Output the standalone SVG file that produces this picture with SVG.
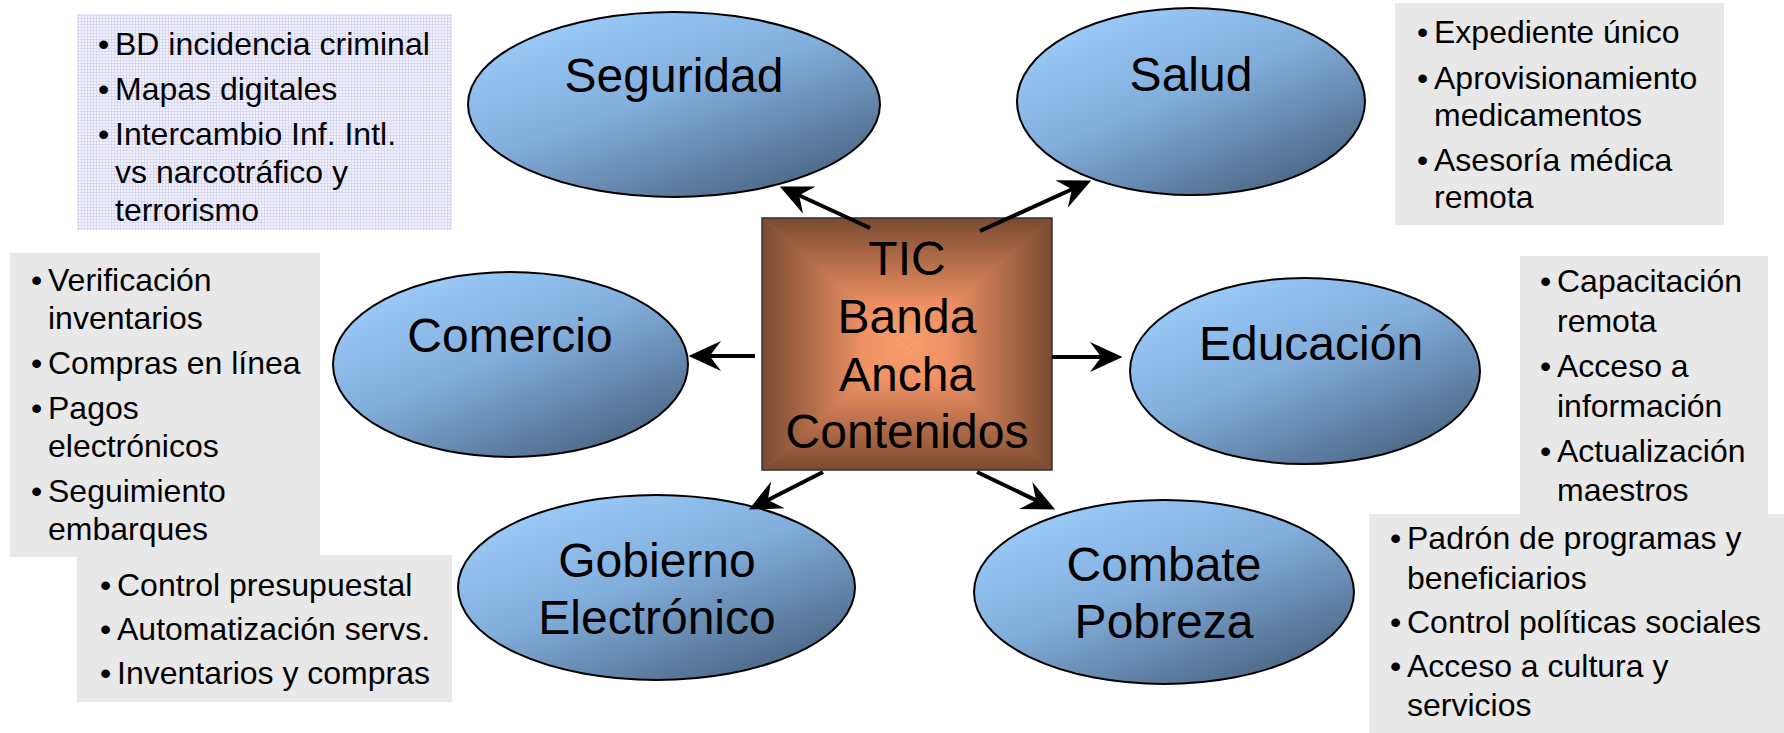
<svg xmlns="http://www.w3.org/2000/svg" width="1784" height="733" viewBox="0 0 1784 733">
<style>
text{font-family:"Liberation Sans",Arial,sans-serif;fill:#000}
.lst{font-size:32px}
.lbl{font-size:48px;text-anchor:middle}
.ell{fill:url(#blue);stroke:#000;stroke-width:2}
.gbox{fill:#E8E8E8}
.conn{stroke:#000;stroke-width:4;fill:none;marker-end:url(#arr)}
</style>
<defs>
<linearGradient id="blue" x1="0.15" y1="0.05" x2="0.85" y2="0.95">
<stop offset="0" stop-color="#9DCDFB"/>
<stop offset="0.45" stop-color="#82AEDC"/>
<stop offset="1" stop-color="#4A6482"/>
</linearGradient>
<linearGradient id="gT" gradientUnits="userSpaceOnUse" x1="0" y1="344" x2="0" y2="218"><stop offset="0" stop-color="#FB9D6C"/><stop offset="0.3" stop-color="#EE9164"/><stop offset="1" stop-color="#7A4A31"/></linearGradient>
<linearGradient id="gB" gradientUnits="userSpaceOnUse" x1="0" y1="344" x2="0" y2="470"><stop offset="0" stop-color="#FB9D6C"/><stop offset="0.3" stop-color="#EE9164"/><stop offset="1" stop-color="#7A4A31"/></linearGradient>
<linearGradient id="gL" gradientUnits="userSpaceOnUse" x1="907" y1="0" x2="762" y2="0"><stop offset="0" stop-color="#FB9D6C"/><stop offset="0.3" stop-color="#EE9164"/><stop offset="1" stop-color="#7A4A31"/></linearGradient>
<linearGradient id="gR" gradientUnits="userSpaceOnUse" x1="907" y1="0" x2="1052" y2="0"><stop offset="0" stop-color="#FB9D6C"/><stop offset="0.3" stop-color="#EE9164"/><stop offset="1" stop-color="#7A4A31"/></linearGradient>
<pattern id="dots" width="3" height="3" patternUnits="userSpaceOnUse">
<rect width="3" height="3" fill="#F2F2FD"/>
<rect width="3" height="1" fill="#D9D9F4"/>
<rect width="1" height="3" fill="#D9D9F4"/>
</pattern>
<marker id="arr" markerUnits="userSpaceOnUse" markerWidth="40" markerHeight="40" viewBox="-15 -15 32 30" refX="0" refY="0" orient="auto" overflow="visible">
<path d="M14,0 L-12,-12 L-3,0 L-12,12 Z" fill="#000"/>
</marker>
</defs>

<g id="list-seguridad">
<rect x="77" y="14" width="375" height="216" fill="url(#dots)"/>
<text class="lst" x="98" y="55">•</text><text class="lst" x="115" y="55">BD incidencia criminal</text>
<text class="lst" x="98" y="100">•</text><text class="lst" x="115" y="100">Mapas digitales</text>
<text class="lst" x="98" y="145">•</text><text class="lst" x="115" y="145">Intercambio Inf. Intl.</text>
<text class="lst" x="115" y="183">vs narcotráfico y</text>
<text class="lst" x="115" y="221">terrorismo</text>
</g>

<g id="list-salud">
<rect class="gbox" x="1395" y="3" width="329" height="222"/>
<text class="lst" x="1417" y="43">•</text><text class="lst" x="1434" y="43">Expediente único</text>
<text class="lst" x="1417" y="89">•</text><text class="lst" x="1434" y="89">Aprovisionamiento</text>
<text class="lst" x="1434" y="126">medicamentos</text>
<text class="lst" x="1417" y="171">•</text><text class="lst" x="1434" y="171">Asesoría médica</text>
<text class="lst" x="1434" y="208">remota</text>
</g>

<g id="list-comercio">
<rect class="gbox" x="10" y="253" width="310" height="304"/>
<text class="lst" x="31" y="291">•</text><text class="lst" x="48" y="291">Verificación</text>
<text class="lst" x="48" y="329">inventarios</text>
<text class="lst" x="31" y="374">•</text><text class="lst" x="48" y="374">Compras en línea</text>
<text class="lst" x="31" y="419">•</text><text class="lst" x="48" y="419">Pagos</text>
<text class="lst" x="48" y="457">electrónicos</text>
<text class="lst" x="31" y="502">•</text><text class="lst" x="48" y="502">Seguimiento</text>
<text class="lst" x="48" y="540">embarques</text>
</g>

<g id="list-gobierno">
<rect class="gbox" x="77" y="555" width="375" height="147"/>
<text class="lst" x="100" y="596">•</text><text class="lst" x="117" y="596">Control presupuestal</text>
<text class="lst" x="100" y="640">•</text><text class="lst" x="117" y="640">Automatización servs.</text>
<text class="lst" x="100" y="684">•</text><text class="lst" x="117" y="684">Inventarios y compras</text>
</g>

<g id="list-educacion">
<rect class="gbox" x="1520" y="256" width="248" height="262"/>
<text class="lst" x="1540" y="292">•</text><text class="lst" x="1557" y="292">Capacitación</text>
<text class="lst" x="1557" y="332">remota</text>
<text class="lst" x="1540" y="377">•</text><text class="lst" x="1557" y="377">Acceso a</text>
<text class="lst" x="1557" y="417">información</text>
<text class="lst" x="1540" y="462">•</text><text class="lst" x="1557" y="462">Actualización</text>
<text class="lst" x="1557" y="501">maestros</text>
</g>

<g id="list-combate">
<rect class="gbox" x="1369" y="514" width="415" height="219"/>
<text class="lst" x="1390" y="549">•</text><text class="lst" x="1407" y="549">Padrón de programas y</text>
<text class="lst" x="1407" y="589">beneficiarios</text>
<text class="lst" x="1390" y="633">•</text><text class="lst" x="1407" y="633">Control políticas sociales</text>
<text class="lst" x="1390" y="677">•</text><text class="lst" x="1407" y="677">Acceso a cultura y</text>
<text class="lst" x="1407" y="716">servicios</text>
</g>

<g id="seguridad">
<ellipse class="ell" cx="674" cy="104.5" rx="206" ry="92.5"/>
<text class="lbl" x="674" y="92">Seguridad</text>
</g>

<g id="salud">
<ellipse class="ell" cx="1191" cy="101.5" rx="174" ry="93.5"/>
<text class="lbl" x="1191" y="91">Salud</text>
</g>

<g id="comercio">
<ellipse class="ell" cx="510.5" cy="364.5" rx="177.5" ry="92.5"/>
<text class="lbl" x="510" y="352">Comercio</text>
</g>

<g id="educacion">
<ellipse class="ell" cx="1305" cy="371" rx="175" ry="93"/>
<text class="lbl" x="1311" y="360">Educación</text>
</g>

<g id="gobierno">
<ellipse class="ell" cx="656.5" cy="587.5" rx="198.5" ry="92.5"/>
<text class="lbl" x="657" y="577">Gobierno</text>
<text class="lbl" x="657" y="634">Electrónico</text>
</g>

<g id="combate">
<ellipse class="ell" cx="1164" cy="592" rx="190" ry="92"/>
<text class="lbl" x="1164" y="581">Combate</text>
<text class="lbl" x="1164" y="638">Pobreza</text>
</g>

<g id="tic">
<rect x="762" y="218" width="290" height="252" fill="#B8704C"/>
<polygon points="762,218 1052,218 907,344" fill="url(#gT)"/>
<polygon points="762,470 1052,470 907,344" fill="url(#gB)"/>
<polygon points="762,218 762,470 907,344" fill="url(#gL)"/>
<polygon points="1052,218 1052,470 907,344" fill="url(#gR)"/>
<rect x="762" y="218" width="290" height="252" fill="none" stroke="#333" stroke-width="1.5"/>
<text class="lbl" x="907" y="275">TIC</text>
<text class="lbl" x="907" y="333">Banda</text>
<text class="lbl" x="907" y="391">Ancha</text>
<text class="lbl" x="907" y="448">Contenidos</text>
</g>

<g id="connectors">
<line class="conn" x1="870" y1="228" x2="795.7" y2="193.8"/>
<line class="conn" x1="980" y1="231" x2="1075.3" y2="187.8"/>
<line class="conn" x1="755" y1="356" x2="706" y2="356"/>
<line class="conn" x1="1052" y1="357" x2="1105" y2="357"/>
<line class="conn" x1="823" y1="472" x2="764.5" y2="501.7"/>
<line class="conn" x1="977" y1="472" x2="1039.4" y2="501.9"/>
</g>
</svg>
